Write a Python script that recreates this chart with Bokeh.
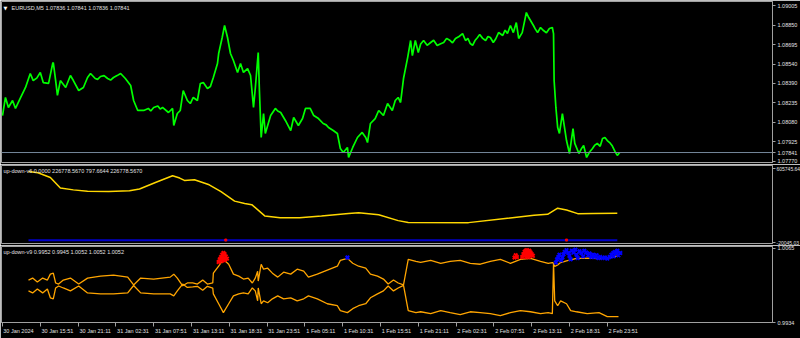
from bokeh.plotting import figure
from bokeh.layouts import column
from bokeh.models import Range1d, FixedTicker, Span, Label, PrintfTickFormatter, LinearAxis
from bokeh.embed import file_html
from bokeh.resources import INLINE

# ---------------- data ----------------
# main pane: EURUSD M5 close (bar index, price)
green_bar = [0, 5, 10, 17, 22, 30, 39, 47, 52, 64, 69, 78, 85, 86, 90, 93, 98, 107, 115, 120,
             129, 137, 144, 149, 157, 166, 178, 188, 200, 208, 217, 222, 229, 239, 256, 271, 281, 288, 290, 296,
             301, 306, 313, 318, 323, 330, 335, 340, 347, 352, 357, 364, 366, 372, 376, 381, 386, 391, 398, 403,
             408, 415, 420, 425, 428, 433, 435, 438, 442, 445, 454, 462, 471, 479, 488, 493, 501, 508, 513, 521,
             527, 535, 543, 552, 560, 567, 572, 577, 584, 586, 593, 601, 609, 615, 618, 623, 631, 637, 645, 652,
             660, 665, 670, 674, 679, 686, 691, 694, 699, 704, 713, 725, 736, 747, 758, 767, 779, 784, 792, 800,
             808, 818, 826, 831, 840, 847, 855, 860, 865, 870, 874, 880, 887, 891, 899, 906, 911, 916, 926, 931,
             933, 934, 937, 940, 943, 948, 955, 960, 966, 969, 976, 984, 989, 999, 1007, 1016, 1024, 1032, 1038, 1041,
             1045]
green_price = [1.08134, 1.08277, 1.08198, 1.08253, 1.08190, 1.08269, 1.08356, 1.08467, 1.08411, 1.08475,
               1.08395, 1.08388, 1.08546, 1.08554, 1.08411, 1.08293, 1.08411, 1.08356, 1.08451, 1.08411,
               1.08332, 1.08356, 1.08435, 1.08467, 1.08427, 1.08443, 1.08427, 1.08435, 1.08467, 1.08427,
               1.08372, 1.08253, 1.08174, 1.08174, 1.08198, 1.08198, 1.08158, 1.08190, 1.08055, 1.08150,
               1.08174, 1.08332, 1.08253, 1.08229, 1.08277, 1.08253, 1.08388, 1.08395, 1.08348, 1.08364,
               1.08435, 1.08546, 1.08625, 1.08752, 1.08847, 1.08752, 1.08625, 1.08570, 1.08475, 1.08546,
               1.08475, 1.08506, 1.08451, 1.08198, 1.08348, 1.08633, 1.08332, 1.07960, 1.08150, 1.07992,
               1.08134, 1.08190, 1.08158, 1.08095, 1.08015, 1.08118, 1.08055, 1.08110, 1.08190, 1.08190,
               1.08134, 1.08110, 1.08071, 1.08039, 1.08015, 1.07992, 1.07873, 1.07841, 1.07881, 1.07802,
               1.07881, 1.07960, 1.08000, 1.07960, 1.07920, 1.08071, 1.08110, 1.08174, 1.08134, 1.08229,
               1.08174, 1.08253, 1.08277, 1.08237, 1.08427, 1.08593, 1.08728, 1.08609, 1.08728, 1.08633,
               1.08728, 1.08712, 1.08688, 1.08712, 1.08728, 1.08744, 1.08783, 1.08728, 1.08704, 1.08728,
               1.08775, 1.08728, 1.08752, 1.08712, 1.08791, 1.08768, 1.08783, 1.08847, 1.08791, 1.08870,
               1.08744, 1.08791, 1.08950, 1.08910, 1.08847, 1.08791, 1.08831, 1.08807, 1.08823, 1.08831,
               1.08783, 1.08411, 1.08198, 1.08039, 1.07992, 1.08150, 1.07936, 1.07833, 1.08031, 1.07913,
               1.07833, 1.07897, 1.07802, 1.07873, 1.07913, 1.07952, 1.07936, 1.07897, 1.07841, 1.07818,
               1.07841]
# extra small swings read between the points above
green_bar_extra = [58, 161, 172, 183, 194, 247, 251, 263, 267, 466, 548, 708, 719, 730, 741, 752, 762,
                   773, 788, 796, 804, 813, 822, 835, 851, 902, 921, 980, 994, 1003, 1012, 1020, 1028]
green_price_extra = [1.08430, 1.08420, 1.08450, 1.08415, 1.08450, 1.08190, 1.08170, 1.08210, 1.08185,
                     1.08170, 1.08060, 1.08700, 1.08690, 1.08730, 1.08700, 1.08745, 1.08710, 1.08760,
                     1.08745, 1.08690, 1.08750, 1.08745, 1.08760, 1.08740, 1.08810, 1.08820, 1.08790,
                     1.07870, 1.07845, 1.07900, 1.07890, 1.07960, 1.07920]
bid_price = 1.07841
price_ticks = [1.07770, 1.07841, 1.07925, 1.08080, 1.08235, 1.08390, 1.08540, 1.08695, 1.08850, 1.09005]

# indicator up-down-v6
yel_bar = [44, 60, 81, 98, 120, 144, 180, 215, 232, 260, 288, 300, 308, 325, 350, 370, 393, 410, 422,
           444, 470, 503, 540, 586, 603, 637, 670, 687, 789, 855, 900, 923, 940, 955, 974, 1000, 1041]
yel_val = [580000, 570000, 530000, 440000, 425000, 413000, 411000, 417000, 432000, 490000, 545000,
           525000, 505000, 510000, 468000, 410000, 330000, 310000, 300000, 205000, 190000, 190000,
           205000, 226000, 232000, 215000, 165000, 150000, 148000, 185000, 210000, 218000, 270000,
           255000, 224000, 226000, 226778.567]
base_bar = [44, 1041]
base_val = [0.0, 0.0]
dot_bar = [378, 955]
dot_val = [797.66, 797.66]
v6_max, v6_min = 605745.64, -20045.03

# indicator up-down-v9
orn_bar = [44, 51, 59, 68, 76, 81, 86, 90, 95, 103,
           115, 129, 144, 166, 188, 212, 222, 234, 256, 284,
           290, 296, 305, 313, 322, 330, 339, 347, 356, 357,
           366, 374, 383, 391, 400, 408, 416, 423, 428, 432,
           433, 438, 442, 449, 457, 466, 476, 488, 499, 510,
           518, 533, 550, 567, 572, 584, 593, 603, 615, 623,
           635, 645, 653, 662, 670, 679, 687, 700, 708, 725,
           742, 758, 775, 792, 809, 826, 843, 860, 877, 894,
           911, 924, 931, 933, 935, 940, 945, 955, 962, 972,
           990, 1010, 1024, 1043]
upper_val = [1.00091, 1.00126, 1.00056, 1.00126, 1.00091, 1.00196, 1.00213, 1.00039, 1.00021, 1.00091,
             1.00126, 1.00021, 1.00126, 1.00161, 1.00178, 1.00143, 1.00005, 1.00126, 1.00109, 1.00143,
             1.00196, 1.00126, 0.99990, 1.00040, 1.00040, 1.00020, 1.00090, 1.00020, 1.00040, 1.00213,
             1.00336, 1.00458, 1.00371, 1.00196, 1.00161, 1.00109, 1.00126, 1.00039, 1.00126, 1.00248,
             1.00074, 1.00371, 1.00283, 1.00301, 1.00213, 1.00143, 1.00231, 1.00196, 1.00283, 1.00248,
             1.00143, 1.00196, 1.00266, 1.00336, 1.00440, 1.00475, 1.00388, 1.00336, 1.00301, 1.00196,
             1.00161, 1.00109, 1.00021, 1.00091, 1.00039, 1.00004, 1.00458, 1.00423, 1.00405, 1.00440,
             1.00388, 1.00423, 1.00440, 1.00388, 1.00371, 1.00423, 1.00458, 1.00388, 1.00458, 1.00475,
             1.00423, 1.00388, 1.00400, 1.00388, 1.00330, 1.00360, 1.00400, 1.00430, 1.00450, 1.00475,
             1.00480, 1.00470, 1.00480, 1.00520]
lower_val = [0.99899, 0.99864, 0.99934, 0.99864, 0.99934, 0.99777, 0.99759, 0.99951, 0.99986, 0.99951,
             0.99899, 0.99986, 0.99864, 0.99847, 0.99847, 0.99864, 0.99995, 0.99864, 0.99847, 0.99847,
             0.99812, 0.99899, 1.00020, 0.99960, 0.99970, 0.99980, 0.99910, 0.99980, 0.99950, 0.99847,
             0.99672, 0.99515, 0.99672, 0.99812, 0.99847, 0.99864, 0.99847, 0.99951, 0.99899, 0.99724,
             0.99951, 0.99672, 0.99724, 0.99689, 0.99759, 0.99812, 0.99759, 0.99777, 0.99724, 0.99759,
             0.99812, 0.99759, 0.99672, 0.99637, 0.99550, 0.99515, 0.99585, 0.99637, 0.99672, 0.99777,
             0.99847, 0.99899, 0.99985, 0.99899, 0.99951, 0.99996, 0.99550, 0.99515, 0.99530, 0.99497,
             0.99550, 0.99515, 0.99480, 0.99530, 0.99515, 0.99497, 0.99462, 0.99515, 0.99550, 0.99530,
             0.99497, 0.99515, 0.99497, 1.00388, 0.99724, 0.99637, 0.99724, 0.99672, 0.99550, 0.99530,
             0.99497, 0.99515, 0.99445, 0.99445]
red_bar = [366, 368, 370, 371, 372, 373, 374, 375, 376, 377, 378, 380,
           867, 869, 871,
           880, 882, 884, 885, 886, 887, 888, 889, 890, 891, 892, 893, 894, 896, 898]
red_val = [1.0041, 1.0046, 1.0050, 1.0043, 1.0054, 1.0048, 1.0057, 1.0044, 1.0055, 1.0046, 1.0051, 1.0047,
           1.0049, 1.0053, 1.0050,
           1.0050, 1.0055, 1.0059, 1.0053, 1.0061, 1.0050, 1.0062, 1.0055, 1.0060, 1.0050, 1.0061, 1.0054,
           1.0058, 1.0055, 1.0052]
blue_bar = [584,
            937, 939, 941, 943, 946, 948, 950, 952, 955, 958, 960, 962, 964, 967, 970, 972, 974, 977, 980, 983,
            985, 988, 991, 994, 997, 1000, 1003, 1006, 1009, 1012, 1016, 1020, 1024, 1028, 1031, 1034, 1035,
            1037, 1040, 1041, 1043, 1046]
blue_val = [1.0049,
            1.0040, 1.0046, 1.0050, 1.0054, 1.0044, 1.0049, 1.0055, 1.0059, 1.0062, 1.0057, 1.0052, 1.0046,
            1.0061, 1.0058, 1.0063, 1.0054, 1.0048, 1.0060, 1.0057, 1.0051, 1.0061, 1.0058, 1.0053, 1.0056,
            1.0050, 1.0054, 1.0050, 1.0053, 1.0048, 1.0050, 1.0048, 1.0049, 1.0047, 1.0050, 1.0054, 1.0057,
            1.0051, 1.0059, 1.0056, 1.0061, 1.0053, 1.0057]
v9_max, v9_min = 1.0065, 0.9934

time_ticks = [0, 64, 128, 192, 256, 320, 384, 448, 512, 576, 640, 704, 768, 832, 896, 960, 1024]
time_labels = ["30 Jan 2024", "30 Jan 15:51", "30 Jan 21:11", "31 Jan 02:31", "31 Jan 07:51",
               "31 Jan 13:11", "31 Jan 18:31", "31 Jan 23:51", "1 Feb 05:11", "1 Feb 10:31",
               "1 Feb 15:51", "1 Feb 21:11", "2 Feb 02:31", "2 Feb 07:51", "2 Feb 13:11",
               "2 Feb 18:31", "2 Feb 23:51"]

header_main = "EURUSD,M5  1.07836 1.07841 1.07836 1.07841"
header_v6 = "up-down-v6 0.0000 226778.5670 797.6644 226778.5670"
header_v9 = "up-down-v9 0.9952 0.9945 1.0052 1.0052 1.0052"

# ---------------- layout ----------------
BAR_PX = 0.5906
FRAME_W = 771
X0 = -1.0 / BAR_PX
X1 = X0 + FRAME_W / BAR_PX
xr = Range1d(X0, X1)

FONT = "Liberation Sans"
FS_PX = 5.5
FS = "%.1fpx" % FS_PX
TXT = "#e0e0e0"
FRAME = "#a0a0a0"

# approximate Arial advance widths (em) for the time labels
CHAR_EM = {" ": 0.278, ":": 0.278, "J": 0.5, "F": 0.611, "a": 0.556, "n": 0.556, "e": 0.556, "b": 0.556}


def text_width(s):
    return sum(CHAR_EM.get(c, 0.556) for c in s) * FS_PX


def make(frame_h, y0, y1, top, bottom, xaxis):
    p = figure(frame_width=FRAME_W, frame_height=frame_h, x_range=xr,
               y_range=Range1d(y0, y1), output_backend="svg", toolbar_location=None,
               x_axis_location="below" if xaxis else None, y_axis_location="right",
               min_border_left=1, min_border_right=28, min_border_top=top,
               min_border_bottom=bottom, background_fill_color="black",
               border_fill_color="black", outline_line_color=FRAME, outline_line_width=1)
    p.grid.visible = False
    return p


def style_axis(ax, ticks, size=FS, standoff=2, tick_out=3):
    ax.ticker = FixedTicker(ticks=ticks)
    ax.axis_line_color = FRAME
    ax.major_tick_line_color = FRAME
    ax.major_tick_out = tick_out
    ax.major_tick_in = 0
    ax.minor_tick_line_color = None
    ax.major_label_text_color = TXT
    ax.major_label_text_font = FONT
    ax.major_label_text_font_size = size
    ax.major_label_standoff = standoff


def header(p, x, y, s, xo, yo, font=FONT, size=FS, color=TXT):
    p.add_layout(Label(x=x, y=y, x_offset=xo, y_offset=yo, text=s, text_align="left",
                       text_baseline="top", text_font=font, text_font_size=size,
                       text_color=color))


# main pane
green_pts = sorted(zip(green_bar + green_bar_extra, green_price + green_price_extra))
P1_LO, P1_HI = 1.07762, 1.09037
p1 = make(161, P1_LO, P1_HI, 1, 2, False)
style_axis(p1.yaxis[0], price_ticks)
p1.yaxis[0].formatter = PrintfTickFormatter(format="%.5f")
p1.add_layout(Span(location=bid_price, dimension="width", line_color="#74879a", line_width=1))
p1.line([b for b, _ in green_pts], [v for _, v in green_pts], line_color="#00ff00", line_width=1.7)
header(p1, X0, P1_HI, "\u25bc", 2, -3, font="DejaVu Sans", size="5px", color="#ffffff")
header(p1, X0, P1_HI, header_main, 10, -3)

# up-down-v6 pane (labels sit a little inside the pane, as in the terminal)
s6 = (v6_max - v6_min) / 74.0
P2_LO, P2_HI = v6_min - 1 * s6, v6_max + 3 * s6
p2 = make(78, P2_LO, P2_HI, 1, 2, False)
style_axis(p2.yaxis[0], [v6_max, v6_min], size="5px", standoff=1)
p2.yaxis[0].formatter = PrintfTickFormatter(format="%.2f")
p2.line(base_bar, base_val, line_color="#0000c8", line_width=2)
p2.line(yel_bar, yel_val, line_color="#ffd700", line_width=1.5)
p2.scatter(dot_bar, dot_val, marker="square", size=2, line_color="red", fill_color="red")
header(p2, X0, P2_HI, header_v6, 2, -2)

# up-down-v9 pane
P3_LO, P3_HI = 0.99340, 1.00685
p3 = make(76, P3_LO, P3_HI, 1, 16, True)
style_axis(p3.yaxis[0], [v9_max, v9_min])
p3.yaxis[0].formatter = PrintfTickFormatter(format="%.4f")
# time axis: tick marks at the bars, labels starting just right of each tick
tick_axis = p3.xaxis[0]
style_axis(tick_axis, time_ticks, size="1px", standoff=0, tick_out=4)
tick_axis.major_label_text_color = None
label_pos = [int(round(t + (text_width(s) / 2 + 1) / BAR_PX)) for t, s in zip(time_ticks, time_labels)]
lab_axis = LinearAxis(ticker=FixedTicker(ticks=label_pos),
                      major_label_overrides={pos: s for pos, s in zip(label_pos, time_labels)},
                      axis_line_color=None, major_tick_line_color=None, minor_tick_line_color=None,
                      major_tick_out=0, major_tick_in=0, major_label_standoff=1,
                      major_label_text_color=TXT, major_label_text_font=FONT,
                      major_label_text_font_size=FS)
p3.add_layout(lab_axis, "below")
p3.line(orn_bar, upper_val, line_color="#ffa500", line_width=1.3)
p3.line(orn_bar, lower_val, line_color="#ffa500", line_width=1.3)
p3.scatter(red_bar, red_val, marker="x", size=5, line_color="#ff0000", line_width=2)
p3.scatter(blue_bar, blue_val, marker="x", size=5, line_color="#0000ff", line_width=2)
header(p3, X0, P3_HI, header_v9, 2, -2)

layout = column(p1, p2, p3, spacing=0)
open("out.html", "w").write(file_html(layout, INLINE))
